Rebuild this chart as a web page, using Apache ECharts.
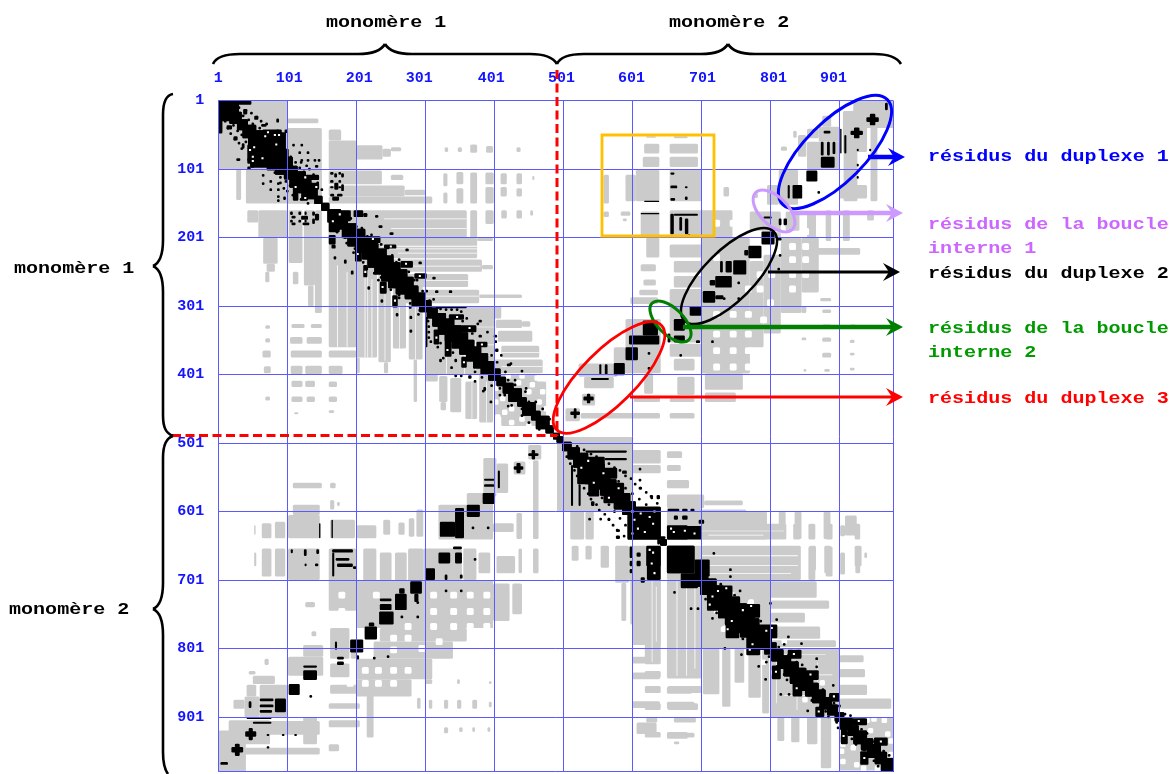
<!DOCTYPE html>
<html><head><meta charset="utf-8">
<style>html,body{margin:0;padding:0;background:#fff}#c{width:1174px;height:774px}</style>
<script src="https://cdn.jsdelivr.net/npm/echarts@6/dist/echarts.min.js"></script>
</head><body><div id="c"></div>
<script>
// residue indices are zero-based: tick value v carries the label v+1
const tickValues = [0,100,200,300,400,500,600,700,800,900];
// every patch: [x from, x to, y from, y to]; the contact map is symmetric, so only one half is listed
const grayMono1 = [
[0,100,0,100],[100,145,26,33],[100,150,40,100],[160,178,42,58],[160,200,58,100],[200,238,65,86],[238,250,70,82],[250,265,68,74],
[328,333,68,75],[347,353,68,75],[365,375,64,76],[388,398,66,76],[432,438,68,75],
[100,150,100,150],[160,237,102,122],[250,268,108,116],[160,270,124,140],[270,300,130,138],[160,310,140,150],
[326,332,106,125],[326,332,134,150],[345,355,104,122],[345,355,128,150],[365,375,105,150],[387,399,105,122],[387,399,126,150],
[409,418,106,122],[409,418,126,140],[432,440,106,122],[432,440,128,140],[455,458,110,116],
[160,360,160,200],[365,375,160,200],[387,399,160,180],[410,418,160,172],[432,440,160,172],[452,456,160,168],
[200,375,200,230],[375,398,200,205],[225,382,232,250],[382,398,240,246],[250,362,253,272],[270,378,276,296],[378,440,283,288],
[300,400,300,400],[400,410,300,318],[402,440,320,332],[410,465,358,375],[400,470,378,398],[405,455,336,352],[440,452,322,330],
[400,462,400,440],[410,470,440,475]
];
const grayMono2 = [
[491,600,491,600],[578,641,510,530],[597,641,532,544],[650,672,512,522],[650,670,532,541],[650,682,554,566],[650,704,575,595],[704,760,584,591],
[593,641,593,641],[650,700,595,641],[700,765,597,615],[700,823,618,641],[833,843,618,641],[855,865,618,641],[880,890,618,641],[901,908,620,636],[922,930,618,641],
[650,700,651,700],[700,840,651,700],[855,865,651,700],[880,890,651,695],[901,908,660,692],[923,930,655,690],[936,940,660,668],
[700,800,700,800],[800,867,702,726],[800,885,730,742],[800,850,748,762],[800,872,768,786],[800,895,788,798],
[800,898,800,900],[900,935,810,820],[900,937,830,842],[900,940,853,868],[900,975,873,888],[900,978,900,978],
[600,641,700,795],[650,700,700,844],[600,640,812,822],[600,640,835,845],[600,640,877,887],[606,635,908,925],[650,686,856,866],[650,690,878,888],[650,680,922,932]
];
const grayDimer = [
[449,468,503,524],[428,445,527,546],[456,464,525,640],[384,403,522,578],[403,420,530,573],[360,398,573,600],[319,398,590,641],[398,428,617,630],[432,440,602,640],
[287,297,597,637],[276,284,610,637],[239,249,612,634],[261,270,616,634],[101,147,605,639],[162,198,612,639],[200,229,620,639],[82,97,615,639],[63,77,617,639],
[108,147,590,605],[162,168,583,597],[108,150,558,566],[162,170,558,566],[172,176,586,592],[52,54,620,634],
[63,77,654,695],[82,97,654,695],[101,147,654,700],[160,200,654,745],[210,229,654,745],[234,251,660,745],[256,273,660,745],[275,297,654,745],[297,353,654,700],[355,374,654,700],[377,394,660,690],
[403,430,665,690],[435,440,654,690],[456,464,654,690],[319,398,700,770],[398,422,705,760],[426,440,705,750],[52,55,660,680],
[200,398,700,770],[234,360,770,790],[225,340,790,815],[200,310,815,845],[200,280,845,870],[162,190,770,815],[162,190,822,842],[192,200,790,815],[162,262,853,866],
[126,140,732,740],[135,142,775,782],[101,152,812,840],[123,152,795,812],[67,73,815,824],[50,82,840,852],[44,54,833,838],[60,100,853,900],[38,60,870,900],[22,38,875,888],[41,55,853,870],
[0,40,920,980],[15,75,905,940],[36,147,945,955],[70,147,906,926],[123,143,900,940],[160,205,880,888],[160,205,905,915],[215,225,845,930],[160,175,940,950],
[288,293,872,888],[305,310,875,888],[327,333,875,888],[346,352,875,888],[368,375,875,888],[392,396,878,886],[327,333,915,924],[349,354,915,922],[368,372,915,922],[390,394,915,922],[300,310,845,852],[346,350,845,852],[392,396,848,852]
];
const holesDimer = [
[179,722],[229,722],[312,722],[341,722],[365,722],[389,722],[179,746],[312,746],[341,746],[365,746],[389,746],[312,768],[341,768],[365,768],[389,768],
[254,785],[275,768],[275,785],[254,802],[232,832],[254,832],[275,832],[213,832],[191,851],[213,851],[232,851],[254,851],[295,800],[320,790]
];
const holesNearDiagonal = [
[925,905],[945,920],[960,935],[975,955],[950,903],[970,925],[965,905],[940,905],[920,900],[975,935],
[420,402],[435,412],[450,425],[465,440],[440,402],[455,415],[462,405],[475,450],[470,425],[480,462],
[771,734],[732,772],[862,836],[780,745],[835,805],[875,850],[745,722],[820,790],[895,872]
];
const streaks = [
[240,360,172,173.2],[250,360,186,187.2],[235,375,212,213.2],[260,375,222,223.2],[280,380,241,242],[300,365,262,263],[300,378,285,286],
[700,840,664,665.2],[710,840,678,679.2],[705,830,690,691.2],[700,820,628,629],[710,790,634,635],[810,880,808,809],[820,890,838,839],[820,880,868,869],
[410,465,367,368],[410,470,388,389],[210,375,216,217],[330,400,330,331],[340,400,356,357],[350,400,372,373]
];
const diagonalMono1 = [[5,8],[15,8],[25,9],[35,8],[45,10],[55,12],[65,14],[75,16],[85,14],[95,13],[105,10],[115,12],[125,10],[135,9],[145,6],[155,6],[168,10],[178,10],[190,11],[200,13],[210,12],[220,12],[230,14],[240,14],[250,14],[260,14],[270,13],[280,10],[290,10],[300,9],[310,8],[320,10],[330,12],[340,12],[350,12],[360,11],[370,11],[380,11],[390,10],[400,9],[410,7],[420,8],[430,10],[440,7],[450,10],[460,7],[470,10],[480,6],[490,5]];
const diagonalMono2 = [[495,5],[505,7],[515,9],[525,11],[535,13],[545,15],[555,13],[565,12],[575,10],[585,12],[595,10],[645,5],[700,10],[710,12],[720,12],[730,12],[740,16],[750,16],[760,16],[770,14],[780,14],[790,12],[800,9],[810,9],[820,10],[830,11],[840,12],[850,12],[860,10],[870,10],[880,9],[890,8],[900,7],[910,9],[920,8],[930,10],[940,9],[950,10],[960,9],[970,10],[977,8]];
const blackMono1 = [
[60,98,46,72],[42,58,64,92],[0,30,0,18],[0,6,20,48],[12,20,36,42],[22,28,52,58],[34,38,62,70],[26,32,84,88],[46,50,58,62],[47,52,90,98],[70,100,96,102],
[84,88,42,47],[96,101,42,47],[107,111,63,67],[119,123,63,67],[116,120,74,78],[128,132,74,78],[119,123,85,89],[128,132,85,89],[138,142,85,89],[144,148,85,89],[140,145,94,98],
[122,146,108,116],[128,146,120,130],[162,167,104,108],[174,178,104,108],[162,167,116,120],[174,178,116,120],[162,167,125,128],[174,178,125,128],[162,168,136,140],[172,180,136,140],
[160,192,160,176],[196,210,160,170],[210,216,164,170],[227,232,167,171],[232,238,182,186],[248,254,192,196],[242,248,213,217],[271,276,216,220],[215,235,198,208],[240,258,210,216],
[290,295,235,239],[310,315,257,261],[314,319,277,281],[334,339,277,281],[284,302,252,260],[264,282,234,244],
[316,360,300,303],[352,356,320,324],[377,382,320,324],[377,382,342,346],[399,404,342,346],[401,406,362,367],[418,424,384,388],[334,356,312,320],[350,374,328,338],[374,390,352,360],
[140,146,165,175],[120,130,168,174],[106,112,168,172],[106,112,178,182],[122,132,178,182]
];
const blackMono2 = [
[593,641,593,641],[650,680,620,641],[680,698,625,640],[650,690,650,690],[690,712,670,695],[651,668,596,600],[672,680,596,600],[684,690,596,600],[660,666,606,612],[672,680,606,612],
[621,641,651,700],[696,704,612,618],[640,648,636,640],
[532,592,511,514],[560,592,522,525],[585,592,540,545],[609,613,536,540],[609,613,552,556],[609,613,564,568],[625,630,576,580],[635,640,576,582],[530,560,520,532],[550,578,536,552],[572,588,558,574],
[716,720,659,663],[740,744,683,687],[740,744,693,697],[798,802,732,736],[807,811,756,760],[824,828,781,785],[843,847,791,795],[865,869,813,817],[865,869,825,829],[889,893,852,856],[891,895,868,872],
[718,745,708,725],[750,785,735,755],[780,810,765,785],[825,845,802,815],[850,870,832,846],[885,900,865,878],[918,940,902,912],[950,970,930,942]
];
// small isolated contacts near the diagonal: [x, y]
const specksNearDiagonal = [
[192,172],[200,184],[208,186],[216,198],[222,196],[228,212],[236,210],[244,228],[252,226],[258,236],[262,232],[268,250],[276,250],[284,262],[288,262],[296,278],[302,278],[306,292],[312,290],[318,302],[322,304],[326,312],
[330,305],[338,305],[346,305],[352,308],[360,318],[368,340],[376,326],[384,356],[390,338],[396,372],[402,352],[404,382],[410,372],[416,396],[424,384],[430,408],[440,395],[446,420],
[30,10],[40,14],[48,18],[56,24],[62,30],[70,34],[36,22],[44,28],[50,34],[60,40],[105,82],[112,90],[118,98],[124,104],[132,100],[138,108],[144,120],[150,130],[120,90],[128,95],[110,102],[105,95],
[430,415],[445,425],[460,440],[470,450],[480,465],[420,408],[450,440],
[520,505],[530,510],[540,516],[548,520],[556,524],[566,530],[574,536],[582,540],[590,548],[598,552],[604,560],[612,566],[620,572],[628,580],[636,588],[560,540],[570,548],[580,556],[590,566],[600,574],[610,582],[620,590],
[718,704],[728,706],[736,716],[748,722],[756,716],[768,748],[776,754],[786,760],[794,770],[802,776],[812,798],[820,794],[826,810],[838,820],[846,824],[852,840],[862,844],[868,856],[876,860],[886,872],[892,880],[900,884],[908,896],[916,898],[924,912],[932,918],[940,924],[948,936],[956,938],[964,950],[972,956],[976,964]
];
const blackDimer = [
[19,36,944,952],[24,31,939,957],[39,55,921,929],[44,50,916,934],[3,14,966,970],[41,77,901,903],[50,77,907,910],[82,98,873,893],[60,80,873,877],[60,80,882,886],[60,78,890,894],[44,48,877,887],
[102,118,852,868],[123,143,832,846],[123,143,825,828],[172,182,812,816],[172,182,819,824],[191,210,787,806],[212,230,768,787],[218,226,762,768],[233,254,746,765],[234,251,727,731],[234,251,735,744],[256,273,720,744],[262,270,712,720],[278,295,702,720],[284,290,720,732],
[300,314,683,700],[319,336,660,676],[340,353,651,655],[343,353,660,676],[321,343,615,637],[343,356,595,639],[360,379,590,608],[383,401,573,589],[385,400,560,564],[385,400,552,555],[405,408,540,566],
[428,442,534,539],[432,438,529,544],[449,464,515,519],[454,459,510,524],
[164,166,612,639],[146,148,617,639],[105,108,655,661],[124,128,655,665],[142,146,655,662],[165,195,655,660],[165,168,660,695],[170,190,668,672],[172,195,676,681],[195,200,680,684],[125,128,676,680],[140,145,676,680],
[367,371,622,626],[389,393,622,626],[370,374,668,672],[328,332,692,700],[350,354,692,698],[328,332,714,718],[350,354,714,718],[287,291,731,735],[287,291,752,756],[264,268,752,756],[200,204,810,816],[224,228,812,816],[244,248,810,814],[132,136,868,872],[70,74,925,928],[92,96,925,928],[110,114,925,928],[70,74,943,946],[169,172,790,802]
];
// white gaps inside the densest black areas: [x, y]
const gapsInBlack = [
[68,52],[88,50],[84,64],[46,72],[50,82],[126,112],[142,126],[176,166],
[600,600],[608,625],[612,603],[618,630],[600,632],[656,625],[676,628],[630,660],[632,690],[536,526],[558,544],[580,566],
[724,716],[736,712],[760,744],[772,738],[794,774],[802,770],[834,808],[858,838],[892,870],[928,906],[960,936],[346,316],[364,332],[382,356],[224,202],[250,213],[292,256],[272,238]
];
const labelColumnsX = {0:0,100:2,200:3,300:-6,400:-3,500:-2,600:-1,700:1,800:3,900:-6};

const mirrored = list => list.flatMap(([a,b,c,d]) => [[a,b,c,d],[c,d,a,b]]);
const beads = list => list.map(([c,h]) => [c-h,c+h,c-h,c+h]);
const around = (list,h) => list.map(([x,y]) => [x-h,x+h,y-h,y+h]);
const grayCells = mirrored([...grayMono1,...grayMono2,...grayDimer]);
const holeCells = mirrored([...around(holesDimer,5),...around(holesNearDiagonal,4),...streaks]);
const blackCells = mirrored([...blackMono1,...blackMono2,...blackDimer,...beads(diagonalMono1),...beads(diagonalMono2),...around(specksNearDiagonal,2)]);
const gapCells = mirrored(around(gapsInBlack,1.5));

const rectSeries = (data,fill,r,z) => ({
  type:'custom', data, z, silent:true, animation:false, clip:true,
  encode:{x:[0,1],y:[2,3]},
  renderItem:(p,api) => {
    const a = api.coord([api.value(0),api.value(2)]), b = api.coord([api.value(1),api.value(3)]);
    return {type:'rect', shape:{x:a[0],y:a[1],width:b[0]-a[0],height:b[1]-a[1],r}, style:{fill}};
  }
});

const BLUE='#5a5aff', MONO='"Liberation Mono",monospace';
const rich = {};
Object.values(labelColumnsX).forEach(n => {
  rich['n'+(n<0?'m':'')+Math.abs(n)] = {color:'#1414ff',fontFamily:MONO,fontWeight:'bold',fontSize:15,padding:n<0?[0,-2*n,0,0]:[0,0,0,2*n]};
});
const txt = (t,x,y,c) => ({type:'text',x,y,scaleX:1.18,silent:true,z:30,
  style:{text:t,x:0,y:0,fill:c,font:'bold 17px '+MONO,textVerticalAlign:'middle',textAlign:'left'}});
const brace = pts => { const out=[]; const st={stroke:'#000',lineWidth:2.6,fill:null};
  for(let i=0;i<pts.length-1;i++){ const p=pts[i], q=pts[i+1];
    if(q.length===6) out.push({type:'bezierCurve',silent:true,z:30,shape:{x1:p[p.length-2],y1:p[p.length-1],cpx1:q[0],cpy1:q[1],cpx2:q[2],cpy2:q[3],x2:q[4],y2:q[5]},style:st});
    else out.push({type:'line',silent:true,z:30,shape:{x1:p[p.length-2],y1:p[p.length-1],x2:q[0],y2:q[1]},style:st});
  } return out; };
const oval = (cx,cy,a,b,deg,c,w) => ({type:'ellipse',x:cx,y:cy,rotation:deg*Math.PI/180,silent:true,z:30,shape:{cx:0,cy:0,rx:a,ry:b},style:{fill:null,stroke:c,lineWidth:w}});
const arrow = (x0,x1,y,c,w) => [
  {type:'line',silent:true,z:31,shape:{x1:x0,y1:y,x2:x1-8,y2:y},style:{stroke:c,lineWidth:w}},
  {type:'polygon',silent:true,z:31,shape:{points:[[x1,y],[x1-17,y-9],[x1-11,y],[x1-17,y+9]]},style:{fill:c}}
];
const dash = (x1,y1,x2,y2) => ({type:'line',silent:true,z:29,shape:{x1,y1,x2,y2},style:{stroke:'#ff0000',lineWidth:3,lineDash:[9,4.5]}});

const chart = echarts.init(document.getElementById('c'),null,{renderer:'canvas'});
chart.setOption({
  animation:false, backgroundColor:'#fff',
  grid:{left:218.3,top:100.7,width:675,height:671,containLabel:false},
  xAxis:{type:'value',position:'top',min:0,max:978,interval:100,z:5,
    axisLine:{show:false},axisTick:{show:false},
    splitLine:{show:true,lineStyle:{color:BLUE,width:1}},
    axisLabel:{margin:15,showMaxLabel:false,hideOverlap:false,rich,
      formatter:v => { const n = labelColumnsX[v]; return n===undefined?'':'{n'+(n<0?'m':'')+Math.abs(n)+'|'+(v+1)+'}'; }}},
  yAxis:{type:'value',inverse:true,min:0,max:980,interval:100,z:5,
    axisLine:{show:false},axisTick:{show:false},
    splitLine:{show:true,lineStyle:{color:BLUE,width:1}},
    axisLabel:{margin:14,showMaxLabel:false,hideOverlap:false,color:'#1414ff',fontFamily:MONO,fontWeight:'bold',fontSize:15,
      formatter:v => tickValues.includes(v)?String(v+1):''}},
  series:[rectSeries(grayCells,'#cbcbcb',1.5,2),rectSeries(holeCells,'#ffffff',1.5,3),rectSeries(blackCells,'#000000',1.2,4),rectSeries(gapCells,'#ffffff',0,4.5)],
  graphic:[
    ...brace([[213,64],[216,57,226,54,240,54],[358,54],[372,54,381,51,385,44],[389,51,398,54,412,54],[530,54],[544,54,553,57,557,64]]),
    ...brace([[557,64],[560,57,570,54,584,54],[701,54],[715,54,724,51,728,44],[732,51,741,54,755,54],[874,54],[888,54,897,57,901,64]]),
    ...brace([[173,94],[166,95,163,102,163,115],[163,240],[163,255,160,263,153,266],[160,269,163,277,163,292],[163,415],[163,428,166,433,173,436]]),
    ...brace([[173,436],[166,438,163,445,163,458],[163,583],[163,598,160,606,153,609],[160,612,163,620,163,635],[163,752],[163,765,165,770,168,774]]),
    dash(557,70,557,436), dash(172,435.5,557,435.5),
    {type:'rect',silent:true,z:30,shape:{x:602,y:135,width:112,height:101},style:{fill:null,stroke:'#ffc000',lineWidth:2.8}},
    oval(835,152,74,30,45,'#0000ff',3), oval(774,211,26,14,-45,'#cc99ff',3), oval(729,276,63,25,45,'#000000',2.5),
    oval(670.5,321.5,26,13,-45,'#008000',3), oval(609,377.5,74,27,45,'#ff0000',2.8),
    ...arrow(868,905,157,'#0000ff',4.5), ...arrow(792,903,213,'#cc99ff',4.5), ...arrow(768,900,272,'#000000',3),
    ...arrow(683,903,327,'#008000',4.5), ...arrow(630,903,397,'#ff0000',3),
    txt('monomère 1',326,23,'#000'), txt('monomère 2',669,23,'#000'), txt('monomère 1',14,269,'#000'), txt('monomère 2',9,610,'#000'),
    txt('résidus du duplexe 1',928,157,'#0000ff'), txt('résidus de la boucle',928,225,'#cc66ff'), txt('interne 1',928,249,'#cc66ff'),
    txt('résidus du duplexe 2',928,274,'#000000'), txt('résidus de la boucle',928,329,'#009900'), txt('interne 2',928,353,'#009900'),
    txt('résidus du duplexe 3',928,399,'#ff0000')
  ]
});
</script></body></html>
